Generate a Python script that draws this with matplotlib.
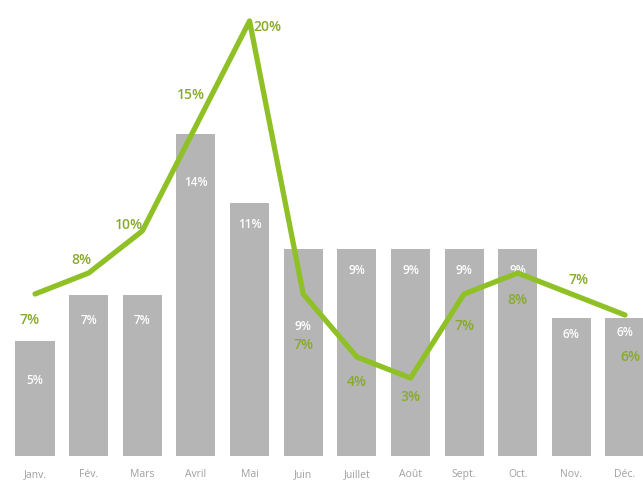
import numpy as np
import matplotlib
matplotlib.use('Agg')
import matplotlib.pyplot as plt

months = ['Janv.', 'Fév.', 'Mars', 'Avril', 'Mai', 'Juin', 'Juillet', 'Août', 'Sept.', 'Oct.', 'Nov.', 'Déc.']
bar_values = [5, 7, 7, 14, 11, 9, 9, 9, 9, 9, 6, 6]
line_values = [7, 8, 10, 15, 20, 7, 4, 3, 7, 8, 7, 6]

# label offsets in pixels (style only)
bar_label_dy = [-38, -24, -24, -47, -20, -76, -21, -21, -21, -21, -15, -13]
line_label_dx = [-5, -7, -13, -5, 18, 0, 0, 0, 0, 0, 7, 5]
line_label_dy = [-25, 14, 7, 32, -5, -50, -24, -18, -31, -26, 15, -41]

bar_color = '#b5b5b5'
green = '#8fc126'
label_green = '#88aa2c'

plt.rcParams['font.family'] = ['Open Sans', 'DejaVu Sans']

fig = plt.figure(figsize=(6.43, 4.85), dpi=100)
ax = fig.add_axes([0, 28 / 485, 1, 457 / 485])
x = np.arange(len(months))
ax.bar(x, bar_values, width=0.73, color=bar_color)
ax.set_xlim(-35 / 53.6, 11 + 18 / 53.6)
ax.set_ylim(0, 457 / 23)

px = 72 / 100  # pixels -> points
for i, v in enumerate(bar_values):
    ax.annotate(f'{v}%', (x[i], v), xytext=(0, bar_label_dy[i] * px),
                textcoords='offset points', ha='center', va='center',
                color='white', fontsize=8.5, fontweight='semibold')

ax2 = ax.twinx()
ax2.set_ylim(-15 / 21, 442 / 21)
ax2.plot(x, line_values, color=green, lw=3.8, solid_joinstyle='round',
         solid_capstyle='round', clip_on=False)
for i, v in enumerate(line_values):
    ax2.annotate(f'{v}%', (x[i], v),
                 xytext=(line_label_dx[i] * px, line_label_dy[i] * px),
                 textcoords='offset points', ha='center', va='center',
                 color=label_green, fontsize=10, fontweight='semibold')

for a in (ax, ax2):
    for s in a.spines.values():
        s.set_visible(False)
    a.set_yticks([])
ax.set_xticks(x)
ax.set_xticklabels(months, color='#a0a0a0', fontsize=7.5)
ax.tick_params(axis='x', length=0, pad=9)

fig.savefig('out.png', dpi=100)
